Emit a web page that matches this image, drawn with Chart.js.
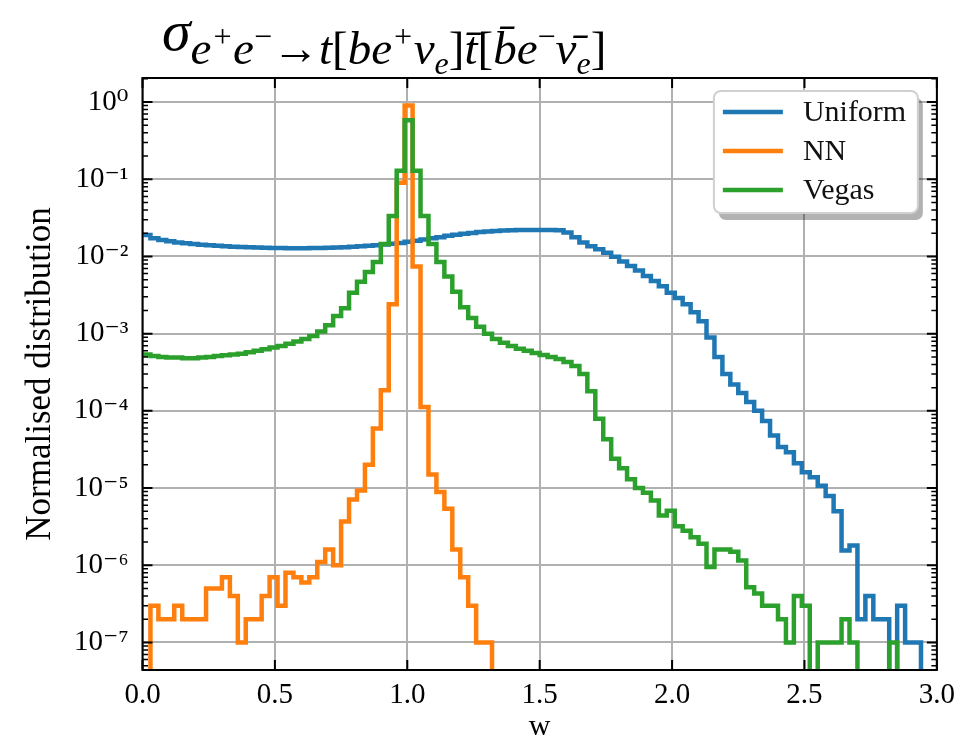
<!DOCTYPE html>
<html>
<head>
<meta charset="utf-8">
<script src="https://cdn.jsdelivr.net/npm/chart.js@4.4.1/dist/chart.umd.min.js"></script>
<style>
  html, body { margin: 0; padding: 0; background: #fff; }
  #wrap { position: relative; width: 963px; height: 747px; }
  #title { position: absolute; left: 162px; top: 2px; font-family: 'Liberation Serif', serif; font-style: italic; color: #000; white-space: nowrap; line-height: 1; }
  #title .sig { font-size: 58px; }
  #title .sub { font-size: 47px; position: relative; top: 14px; }
  #title .up { font-style: normal; }
  #title sup, #title sub { font-size: 32px; line-height: 0; }
</style>
</head>
<body>
<div id="wrap">
  <div id="title"><span class="sig">σ</span><span class="sub">e<sup>+</sup>e<sup class="up">−</sup><span class="up">→</span>t<span class="up">[</span>be<sup>+</sup>ν<sub>e</sub><span class="up">]</span>t̄<span class="up">[</span>b̄e<sup class="up">−</sup>ν̄<sub>e</sub><span class="up">]</span></span></div>
  <canvas id="chart" width="963" height="747"></canvas>
</div>
<script>
// histogram: 100 bins of width 0.03 from w = 0 to 3
const binWidth = 0.03;

const uniform = [
  0.019, 0.0172, 0.0163, 0.0157, 0.0152, 0.0148, 0.0145, 0.0142, 0.0140, 0.0138,
  0.0136, 0.0134, 0.0133, 0.0132, 0.0131, 0.0130, 0.0129, 0.0129, 0.0128, 0.0128,
  0.0128, 0.0129, 0.0129, 0.0130, 0.0131, 0.0132, 0.0134, 0.0136, 0.0138, 0.0140,
  0.0143, 0.0146, 0.0150, 0.0155, 0.0160, 0.0166, 0.0172, 0.0178, 0.0185, 0.0191,
  0.0197, 0.0202, 0.0207, 0.0211, 0.0214, 0.0217, 0.0219, 0.0220, 0.0221, 0.0221,
  0.0221, 0.0220, 0.0218, 0.0205, 0.0178, 0.0152, 0.0136, 0.0124, 0.0112, 0.0099,
  0.0086, 0.0075, 0.0066, 0.0056, 0.0048, 0.0041, 0.0034, 0.0029, 0.0024, 0.0019,
  0.00145, 0.00089, 0.0005, 0.0003, 2.2e-4, 1.7e-4, 1.3e-4, 1.0e-4, 7.4e-5, 4.8e-5,
  3.4e-5, 2.9e-5, 2.1e-5, 1.6e-5, 1.38e-5, 1.07e-5, 7.9e-6, 5.0e-6, 1.55e-6, 1.8e-6,
  2e-7, 4e-7, 2e-7, 2e-7, 0, 3e-7, 1e-7, 1e-7, 0, 0
];

const nn = [
  0, 3e-7, 2e-7, 2e-7, 3e-7, 2e-7, 2e-7, 2e-7, 5e-7, 5e-7,
  7e-7, 4e-7, 1e-7, 2e-7, 2e-7, 4e-7, 7e-7, 3e-7, 8e-7, 7e-7,
  6e-7, 7e-7, 1.1e-6, 1.6e-6, 1.0e-6, 3.7e-6, 7.1e-6, 9.3e-6, 2.0e-5, 5.9e-5,
  1.85e-4, 2.4e-3, 0.09, 0.9, 7.4e-3, 1.12e-4, 1.5e-5, 8.9e-6, 5.4e-6, 1.6e-6,
  7e-7, 3e-7, 1e-7, 1e-7, 0, 0, 0, 0, 0, 0,
  0, 0, 0, 0, 0, 0, 0, 0, 0, 0,
  0, 0, 0, 0, 0, 0, 0, 0, 0, 0,
  0, 0, 0, 0, 0, 0, 0, 0, 0, 0,
  0, 0, 0, 0, 0, 0, 0, 0, 0, 0,
  0, 0, 0, 0, 0, 0, 0, 0, 0, 0
];

const vegas = [
  5.37e-4, 5.13e-4, 5.0e-4, 4.9e-4, 4.9e-4, 4.79e-4, 4.79e-4, 4.9e-4, 5.0e-4, 5.13e-4,
  5.25e-4, 5.37e-4, 5.5e-4, 5.75e-4, 6.03e-4, 6.3e-4, 6.6e-4, 6.9e-4, 7.4e-4, 7.9e-4,
  8.5e-4, 9.3e-4, 1.07e-3, 1.29e-3, 1.7e-3, 2.14e-3, 3.4e-3, 4.7e-3, 6.3e-3, 8.5e-3,
  0.0145, 0.0335, 0.129, 0.58, 0.129, 0.0335, 0.0145, 0.0085, 0.0055, 0.0035,
  0.0022, 0.0016, 0.00123, 0.001, 8.5e-4, 7.6e-4, 6.9e-4, 6.4e-4, 6.0e-4, 5.6e-4,
  5.3e-4, 5.0e-4, 4.7e-4, 4.3e-4, 3.8e-4, 3.0e-4, 1.8e-4, 7.9e-5, 4.3e-5, 2.4e-5,
  1.8e-5, 1.3e-5, 1.0e-5, 8.7e-6, 6.9e-6, 4.4e-6, 5.1e-6, 3.2e-6, 2.8e-6, 2.3e-6,
  1.9e-6, 9.5e-7, 1.6e-6, 1.6e-6, 1.5e-6, 1.15e-6, 5.2e-7, 4.3e-7, 3e-7, 3e-7,
  2e-7, 1e-7, 4e-7, 3e-7, 0, 1e-7, 1e-7, 1e-7, 2e-7, 1e-7,
  0, 0, 0, 0, 1e-7, 0, 0, 0, 0, 0
];

const seriesLabels = ['Uniform', 'NN', 'Vegas'];
const seriesColors = ['#1f77b4', '#ff7f0e', '#2ca02c'];
const xTicks = [0, 0.5, 1.0, 1.5, 2.0, 2.5, 3.0];
const yTickExps = [-7, -6, -5, -4, -3, -2, -1, 0];
const yMin = 4.4e-8, yMax = 2.05;

// empty bins drop below the axis, like matplotlib does on a log scale
const belowAxis = 1e-12;

function steps(values) {
  const pts = values.map((v, i) => ({ x: +(i * binWidth).toFixed(2), y: v > 0 ? v : belowAxis }));
  pts.push({ x: +(values.length * binWidth).toFixed(2), y: pts[pts.length - 1].y });
  return pts;
}

const supDigits = { '-': '⁻', '0': '⁰', '1': '¹', '2': '²', '3': '³', '4': '⁴', '5': '⁵', '6': '⁶', '7': '⁷', '8': '⁸', '9': '⁹' };
function pow10Label(v) {
  const e = Math.round(Math.log10(v));
  return '10' + String(e).split('').map(c => supDigits[c]).join('');
}

const serif = "'Liberation Serif', 'DejaVu Serif', serif";

// frame with inward ticks (mpl style) + legend box in the top right
const frameAndLegend = {
  id: 'frameAndLegend',
  afterDraw(chart) {
    const { ctx, chartArea: a, scales: { x, y } } = chart;
    ctx.save();
    ctx.strokeStyle = '#000';
    ctx.lineCap = 'butt';

    // major ticks
    ctx.lineWidth = 2;
    ctx.beginPath();
    yTickExps.forEach(e => {
      const py = y.getPixelForValue(Math.pow(10, e));
      ctx.moveTo(a.left, py); ctx.lineTo(a.left + 10, py);
      ctx.moveTo(a.right, py); ctx.lineTo(a.right - 10, py);
    });
    xTicks.forEach(t => {
      const px = x.getPixelForValue(t);
      ctx.moveTo(px, a.bottom); ctx.lineTo(px, a.bottom - 10);
      ctx.moveTo(px, a.top); ctx.lineTo(px, a.top + 10);
    });
    ctx.stroke();

    // minor ticks
    ctx.lineWidth = 1.5;
    ctx.beginPath();
    for (let e = -8; e <= 0; e++) {
      for (let k = 2; k <= 9; k++) {
        const v = k * Math.pow(10, e);
        if (v <= yMin || v >= yMax) continue;
        const py = y.getPixelForValue(v);
        ctx.moveTo(a.left, py); ctx.lineTo(a.left + 5.5, py);
        ctx.moveTo(a.right, py); ctx.lineTo(a.right - 5.5, py);
      }
    }
    ctx.stroke();

    // spines
    ctx.lineWidth = 2;
    ctx.strokeRect(a.left, a.top, a.right - a.left, a.bottom - a.top);

    // legend
    const bw = 204, bh = 122;
    const bx = a.right - 19 - bw, by = a.top + 13;
    ctx.fillStyle = 'rgba(0,0,0,0.3)';
    ctx.beginPath();
    ctx.roundRect(bx + 5, by + 7, bw, bh, 7);
    ctx.fill();
    ctx.fillStyle = '#fff';
    ctx.strokeStyle = '#d0d0d0';
    ctx.lineWidth = 2;
    ctx.beginPath();
    ctx.roundRect(bx, by, bw, bh, 7);
    ctx.fill();
    ctx.stroke();

    ctx.font = '30px ' + serif;
    ctx.textBaseline = 'middle';
    ctx.textAlign = 'left';
    chart.data.datasets.forEach((ds, i) => {
      const ly = by + 21 + i * 39;
      ctx.strokeStyle = ds.borderColor;
      ctx.lineWidth = 4.5;
      ctx.beginPath();
      ctx.moveTo(bx + 9, ly); ctx.lineTo(bx + 69, ly);
      ctx.stroke();
      ctx.fillStyle = '#111';
      ctx.fillText(ds.label, bx + 89, ly + 1);
    });
    ctx.restore();
  }
};

new Chart(document.getElementById('chart'), {
  type: 'line',
  data: {
    datasets: [
      { label: seriesLabels[0], data: steps(uniform), borderColor: seriesColors[0], order: 3 },
      { label: seriesLabels[1], data: steps(nn), borderColor: seriesColors[1], order: 2 },
      { label: seriesLabels[2], data: steps(vegas), borderColor: seriesColors[2], order: 1 }
    ].map(ds => Object.assign(ds, {
      backgroundColor: ds.borderColor,
      borderWidth: 4.5,
      stepped: true,
      pointRadius: 0,
      fill: false,
      borderJoinStyle: 'miter'
    }))
  },
  options: {
    responsive: false,
    animation: false,
    devicePixelRatio: 1,
    layout: { padding: { top: 78, right: 22, left: 0, bottom: 0 } },
    plugins: { legend: { display: false }, tooltip: { enabled: false } },
    scales: {
      x: {
        type: 'linear',
        min: 0, max: 3,
        afterFit: s => { s.height = 77; },
        afterBuildTicks: s => { s.ticks = xTicks.map(v => ({ value: v })); },
        ticks: { color: '#000', font: { family: serif, size: 29 }, padding: 8, callback: v => v.toFixed(1), maxRotation: 0 },
        grid: { color: '#b0b0b0', lineWidth: 2, drawTicks: false },
        border: { display: false },
        title: { display: true, text: 'w', color: '#000', font: { family: serif, size: 30 }, padding: { top: 0, bottom: 2 } }
      },
      y: {
        type: 'logarithmic',
        min: yMin, max: yMax,
        afterFit: s => { s.width = 142.5; },
        afterBuildTicks: s => { s.ticks = yTickExps.map(e => ({ value: Math.pow(10, e) })); },
        ticks: { color: '#000', font: { family: serif, size: 29 }, padding: 14, callback: v => pow10Label(v), autoSkip: false },
        grid: { color: '#b0b0b0', lineWidth: 2, drawTicks: false },
        border: { display: false },
        title: { display: true, text: 'Normalised distribution', color: '#000', font: { family: serif, size: 35 }, padding: { top: 20, bottom: 0 } }
      }
    }
  },
  plugins: [frameAndLegend]
});
</script>
</body>
</html>
